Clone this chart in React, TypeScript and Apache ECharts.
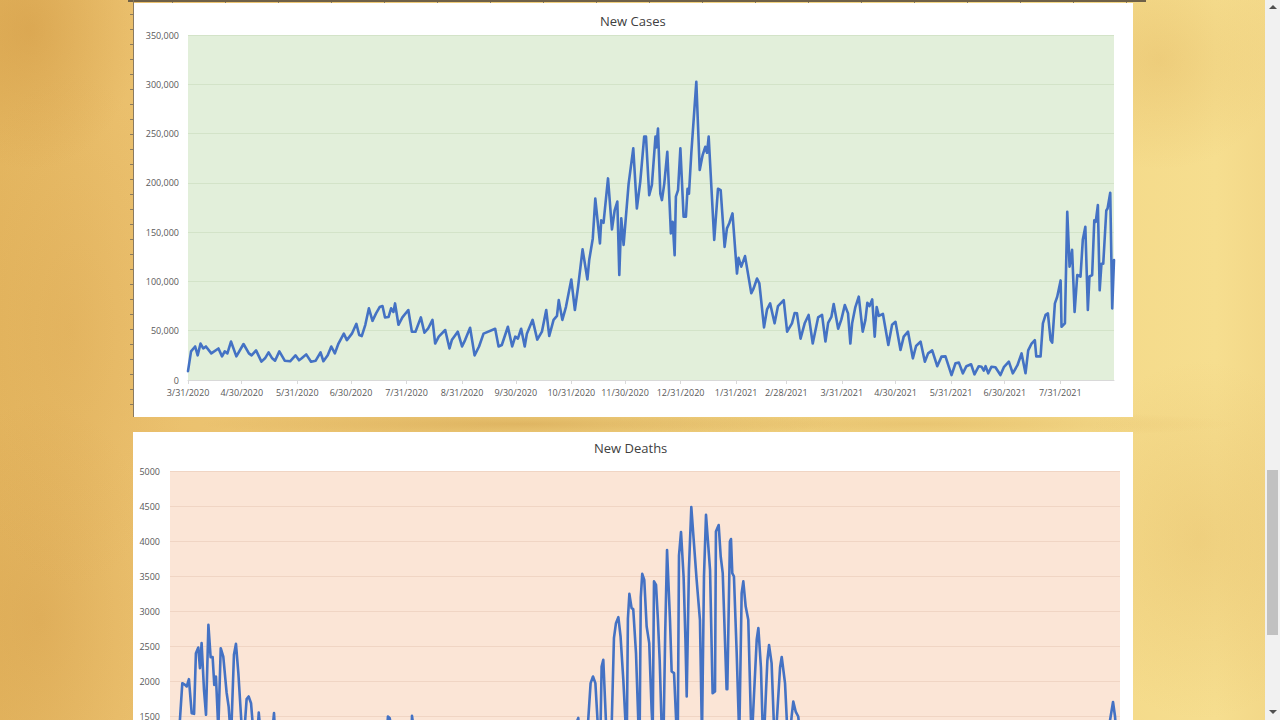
import React, { useEffect, useRef } from "react";
import * as echarts from "echarts";

// ---- data (day offsets counted from 3/31/2020) ----
const START_UTC = Date.UTC(2020, 2, 31);
const AXIS_END_DAY = 517;
const FONT = "'Open Sans', 'Noto Sans', sans-serif";

const dateTickLabels = [
  "3/31/2020", "4/30/2020", "5/31/2020", "6/30/2020", "7/31/2020", "8/31/2020",
  "9/30/2020", "10/31/2020", "11/30/2020", "12/31/2020", "1/31/2021", "2/28/2021",
  "3/31/2021", "4/30/2021", "5/31/2021", "6/30/2021", "7/31/2021",
];

const casesYTicks = [0, 50000, 100000, 150000, 200000, 250000, 300000, 350000];
const deathsYTicks = [0, 500, 1000, 1500, 2000, 2500, 3000, 3500, 4000, 4500, 5000];

const caseDays = [
  0, 1.7, 4, 5.4, 7, 8.5, 10, 13, 17, 19,
  20.5, 22, 24, 27, 31, 34, 35.5, 38, 41, 43,
  45, 47, 48.6, 51, 54, 57, 60, 62, 63.5, 66,
  68.7, 71.3, 74, 75.6, 78, 80, 82, 84, 87, 88.7,
  91.5, 94, 95.6, 97, 99, 101, 103, 105, 107, 108.6,
  110, 112, 113.4, 114.7, 115.6, 117.5, 119.7, 123, 125, 127,
  130, 132, 134, 136.5, 138, 140, 143.6, 146, 147.3, 150.6,
  153, 154.7, 157.5, 160, 162.5, 165, 171.5, 173.4, 175.2, 178.6,
  181, 182.7, 184.2, 186, 188, 189.2, 192.4, 195, 197.6, 200,
  201.7, 204.1, 206, 207, 209, 211, 214, 216, 217.8, 220.3,
  223, 224, 226, 227.4, 230, 230.7, 232, 234.5, 236.7, 238.2,
  239.7, 240.8, 241.9, 243.2, 246, 248.6, 250.6, 252.5, 254.7, 255.7,
  257.5, 259, 261, 261.5, 262.4, 263.7, 264.6, 265.9, 267.6, 269.6,
  270.6, 271.7, 272.4, 273.6, 274.9, 276.7, 278, 278.9, 279.7, 281,
  283.8, 285.7, 287.3, 288.8, 289.8, 290.7, 292.5, 293.8, 295.9, 297.4,
  299.6, 300.9, 302.2, 304, 306.5, 307.4, 308.9, 311, 314.5, 315.8,
  317.7, 319, 321.6, 323.3, 325, 327.5, 329.4, 332.6, 334.5, 337.2,
  338.7, 340, 342, 344.3, 346.5, 348.8, 351.8, 354, 355.9, 357.4,
  359.2, 360.5, 363, 364.8, 366.7, 368.5, 369.8, 370.8, 372.6, 374.5,
  376.7, 378.2, 379.3, 380.5, 382, 383.4, 384.5, 385.7, 388, 391,
  393.1, 395, 397.8, 399.6, 402, 404.7, 406.5, 409, 411.4, 413.2,
  415.5, 418.3, 420.7, 422.9, 426.3, 428.5, 430.4, 432.6, 434.6, 437.2,
  439.1, 441.5, 443, 444.3, 445.3, 446.8, 448.6, 450.8, 453.6, 455.5,
  458.3, 460.5, 463.1, 465.4, 467.6, 469.1, 471, 472.8, 473.6, 476,
  477.3, 478.8, 480.1, 481.6, 482.5, 484, 485.3, 487.2, 487.7, 489.6,
  490.9, 492.2, 493.6, 495, 496.5, 498.3, 499.6, 501, 502.4, 503.3,
  504.8, 506, 506.8, 508, 509, 510, 511, 512.7, 513.4, 514.9,
  516, 517,
];

const caseValues = [
  9000, 29000, 34000, 25000, 37000, 32000, 34000, 27000, 32000, 24000,
  29000, 27000, 39000, 24000, 36500, 27000, 25000, 30000, 18600, 22000,
  28000, 22000, 19600, 29000, 19600, 19000, 25000, 20000, 22000, 26000,
  18600, 19600, 28000, 19000, 25000, 34000, 27000, 37000, 47000, 40500,
  47000, 57000, 45600, 44600, 56000, 72700, 60000, 67600, 74000, 75000,
  63500, 64000, 72700, 69000, 77700, 56000, 63500, 71000, 49000, 49000,
  63500, 48000, 52000, 61000, 37000, 44000, 50700, 32000, 40500, 49000,
  34000, 40500, 53000, 25000, 34000, 47000, 52000, 34000, 35500, 54000,
  34000, 44000, 42000, 52000, 34000, 47000, 61000, 41000, 49000, 71000,
  44600, 61000, 65000, 81000, 61000, 74000, 102000, 71000, 94600, 132500,
  102000, 121700, 143600, 184000, 138600, 162000, 159500, 204500, 152800, 172000,
  181000, 106500, 164000, 137000, 199000, 235000, 174000, 201000, 247000, 247000,
  187600, 198000, 247000, 236000, 255000, 189000, 182500, 199000, 231500, 148700,
  160500, 126700, 186000, 192600, 235000, 165600, 165600, 194000, 189000, 230000,
  302500, 213000, 228000, 236600, 230500, 247000, 186000, 142000, 194000, 192600,
  135000, 153800, 159000, 169000, 108000, 124000, 115000, 125700, 88000, 93000,
  103000, 98000, 53400, 71700, 77700, 57500, 75000, 81000, 49000, 57500,
  68000, 67600, 42000, 57500, 66000, 37000, 63500, 66000, 39000, 58000,
  64000, 77000, 52000, 61500, 76000, 67600, 37000, 57500, 74000, 84500,
  49000, 61000, 78400, 75000, 81800, 44000, 74000, 65000, 67000, 35500,
  56000, 59000, 30400, 44000, 49000, 22000, 34500, 39000, 18600, 27000,
  30000, 14000, 23700, 24000, 5000, 17000, 17600, 6800, 14000, 16000,
  5700, 14000, 13500, 9500, 14000, 6800, 13500, 13000, 5000, 13000,
  18600, 6800, 15000, 27000, 6800, 30000, 37000, 40500, 24000, 24000,
  57500, 66000, 67600, 40500, 38000, 77700, 84500, 101000, 54000, 57500,
  170700, 115000, 132000, 69000, 106500, 104800, 142600, 155500, 71000, 105000,
  106500, 162000, 160500, 177500, 91000, 118000, 118000, 172000, 174000, 190000,
  72700, 121700,
];

const deathDays = [
  0, 3, 5.4, 6.7, 8.2, 9.1, 10.3, 11.8, 13.1, 14.1,
  15.4, 16.3, 17.2, 18.5, 19.6, 20.9, 22.1, 23.2, 24.1, 25,
  26.3, 27.6, 29, 30.8, 31.9, 33.2, 34.8, 35.9, 37.2, 39,
  39.9, 41.7, 42.8, 44.1, 45.7, 47, 48.3, 49.3, 51, 53,
  54, 56.6, 58, 61, 63, 64, 66, 68, 70, 72,
  75, 77, 79, 82, 84, 86, 89, 91, 93, 96,
  98, 100, 103, 105, 107, 110, 112, 114, 117, 118.6,
  119.5, 121, 124, 126, 128, 131, 131.7, 133, 138, 140,
  142, 145, 147, 149, 152, 154, 156, 159, 161, 163,
  166, 168, 170, 173, 175, 177, 180, 182, 184, 187,
  189, 191, 194, 196, 198, 201, 203, 205, 208, 210,
  212, 215, 217, 219, 222.2, 224, 226, 227.6, 228.9, 230.2,
  231.5, 233.1, 234, 234.9, 235.8, 237.3, 238.5, 240.3, 241.6, 242.7,
  244, 245.2, 246.7, 248.1, 248.6, 249.2, 250, 251.2, 252.1, 253.6,
  254.9, 255.6, 256.2, 257, 258.1, 259.4, 260.8, 262.1, 262.7, 263.4,
  264.5, 265.5, 266.5, 267.5, 268.5, 269.5, 270.5, 272.1, 273, 274.3,
  275.7, 276.3, 277, 278.1, 279.5, 280.5, 281.2, 282.4, 283.7, 284.8,
  286.6, 288.4, 289.5, 290.6, 291.7, 293.9, 295.3, 296.6, 297.1, 298.6,
  299.7, 300.8, 302.9, 303.3, 304.7, 305.3, 306, 306.9, 308.4, 309.8,
  311.1, 312, 313.3, 314.7, 316.5, 319.3, 320.2, 321.6, 322.9, 325.1,
  326, 327.4, 329.2, 332, 332.9, 334.7, 336.5, 338.3, 339.2, 340.5,
  341.9, 343, 345, 347, 349, 352, 354, 356, 359, 361,
  363, 366, 368, 370, 373, 375, 377, 380, 382, 384,
  387, 389, 391, 394, 396, 398, 401, 403, 405, 408,
  410, 412, 415, 417, 419, 422, 424, 426, 429, 431,
  433, 436, 438, 440, 443, 445, 447, 450, 452, 454,
  457, 459, 461, 464, 466, 468, 471, 473, 475, 478,
  480, 482, 485, 487, 489, 492, 494, 496, 499, 501,
  503, 506, 508, 510, 511.6, 513.2, 514.3, 515.4, 517,
];

const deathValues = [
  900, 1150, 1452, 1976, 1952, 1929, 2033, 1548, 1538, 2405,
  2486, 2190, 2548, 1881, 1524, 2810, 2348, 2348, 1952, 2071,
  1310, 2476, 2357, 1843, 1643, 1167, 2381, 2538, 2119, 1357,
  1070, 1748, 1786, 1690, 1170, 1020, 1557, 1260, 1000, 1250,
  800, 1548, 900, 700, 1100, 1200, 600, 500, 1000, 1050,
  450, 1000, 900, 400, 800, 750, 350, 700, 1100, 500,
  900, 1000, 550, 1100, 1300, 700, 1250, 1350, 800, 1500,
  1480, 1300, 700, 1300, 1350, 800, 1510, 1250, 500, 1200,
  1250, 450, 1100, 1150, 400, 1000, 1050, 350, 950, 1050,
  400, 1100, 1000, 300, 950, 1000, 350, 900, 950, 400,
  950, 1000, 400, 900, 1000, 400, 1000, 1050, 450, 1050,
  1100, 450, 1200, 1250, 1480, 500, 1100, 1452, 1976, 2071,
  1976, 1250, 900, 2214, 2310, 1400, 700, 1300, 2619, 2833,
  2919, 2643, 2024, 1300, 1200, 2900, 3252, 3048, 3033, 2405,
  1400, 1300, 3200, 3538, 3452, 2786, 2548, 1595, 1300, 3430,
  3380, 2900, 2300, 1400, 1100, 2700, 3879, 2881, 2143, 2119,
  1300, 1100, 3800, 4136, 3500, 2600, 1786, 3600, 4493, 4095,
  3452, 2881, 1200, 3500, 4380, 3595, 1833, 1857, 4143, 4236,
  3786, 3548, 1890, 1890, 4000, 4036, 3548, 3500, 2405, 1200,
  3262, 3430, 3071, 2881, 1100, 2600, 2764, 2200, 1000, 2300,
  2521, 2262, 1000, 2200, 2350, 1976, 1000, 1500, 1714, 1571,
  1500, 1200, 700, 1400, 1300, 600, 1350, 1250, 550, 1300,
  1200, 500, 1250, 1100, 450, 1100, 1000, 400, 1000, 900,
  350, 900, 850, 300, 800, 750, 300, 750, 700, 250,
  700, 650, 200, 600, 550, 200, 550, 450, 150, 500,
  450, 150, 400, 350, 100, 350, 300, 100, 300, 250,
  80, 350, 300, 100, 350, 300, 120, 400, 350, 150,
  500, 450, 200, 650, 600, 250, 800, 750, 300, 1100,
  1000, 400, 1250, 1200, 1450, 1707, 1500, 1100, 600,
];

// ---- helpers ----
const DAY_MS = 86400000;
function dayOfLabel(label: string): number {
  const [m, d, y] = label.split("/").map(Number);
  return Math.round((Date.UTC(y, m - 1, d) - START_UTC) / DAY_MS);
}
function labelOfDay(day: number): string {
  const dt = new Date(START_UTC + Math.round(day) * DAY_MS);
  return `${dt.getUTCMonth() + 1}/${dt.getUTCDate()}/${dt.getUTCFullYear()}`;
}
function withCommas(v: number): string {
  return String(v).replace(/\B(?=(\d{3})+(?!\d))/g, ",");
}

const tickDays = dateTickLabels.map(dayOfLabel);

const parchment = [
  "radial-gradient(ellipse 110px 140px at 30px 30px, rgba(195,130,45,0.30), rgba(195,130,45,0) 100%)",
  "radial-gradient(ellipse 120px 260px at 70px 330px, rgba(205,145,60,0.18), rgba(205,145,60,0) 100%)",
  "radial-gradient(ellipse 130px 220px at 40px 620px, rgba(195,130,50,0.20), rgba(195,130,50,0) 100%)",
  "radial-gradient(ellipse 120px 110px at 1160px 60px, rgba(210,150,60,0.22), rgba(210,150,60,0) 100%)",
  "radial-gradient(ellipse 140px 180px at 1200px 540px, rgba(210,150,60,0.20), rgba(210,150,60,0) 100%)",
  "radial-gradient(ellipse 320px 14px at 520px 424px, rgba(185,125,40,0.30), rgba(185,125,40,0) 100%)",
  "radial-gradient(ellipse 320px 14px at 920px 424px, rgba(200,140,50,0.22), rgba(200,140,50,0) 100%)",
  "linear-gradient(90deg, #e4b660 0%, #eabf6c 9%, #efcd7b 40%, #f3d786 80%, #f6de8f 95%, #f2d686 100%)",
].join(",");

export default function App() {
  const ref = useRef<HTMLDivElement>(null);

  useEffect(() => {
    if (!ref.current) return;
    const chart = echarts.init(ref.current, undefined, { renderer: "svg" });

    const axisText = { fontFamily: FONT, fontSize: 9, color: "#595959" };

    chart.setOption({
      animation: false,
      backgroundColor: "transparent",
      title: [
        {
          text: "New Cases",
          left: 600,
          top: 14,
          padding: 0,
          textStyle: { fontFamily: FONT, fontSize: 13, fontWeight: "normal", color: "#404040" },
        },
        {
          text: "New Deaths",
          left: 594,
          top: 441,
          padding: 0,
          textStyle: { fontFamily: FONT, fontSize: 13, fontWeight: "normal", color: "#404040" },
        },
      ],
      grid: [
        {
          left: 188, top: 35, width: 926, height: 345,
          show: true, backgroundColor: "#e2efda", borderWidth: 0,
        },
        {
          left: 170, top: 471.5, width: 950, height: 350,
          show: true, backgroundColor: "#fbe5d6", borderWidth: 0,
        },
      ],
      xAxis: [
        {
          type: "value",
          gridIndex: 0,
          min: 0,
          max: AXIS_END_DAY,
          axisLine: { show: true, lineStyle: { color: "#d9d9d9", width: 1 } },
          axisTick: { show: true, customValues: tickDays, length: 4, lineStyle: { color: "#d9d9d9" } },
          axisLabel: {
            customValues: tickDays,
            formatter: (v: number) => labelOfDay(v),
            margin: 8,
            ...axisText,
          },
          splitLine: { show: false },
        },
        {
          type: "value",
          gridIndex: 1,
          min: 0,
          max: AXIS_END_DAY,
          axisLine: { show: false },
          axisTick: { show: false },
          axisLabel: { show: false },
          splitLine: { show: false },
        },
      ],
      yAxis: [
        {
          type: "value",
          gridIndex: 0,
          min: casesYTicks[0],
          max: casesYTicks[casesYTicks.length - 1],
          interval: casesYTicks[1] - casesYTicks[0],
          axisLine: { show: false },
          axisTick: { show: false },
          axisLabel: { formatter: (v: number) => withCommas(v), margin: 9, ...axisText },
          splitLine: { show: true, lineStyle: { color: "#d3e3c8", width: 1 } },
        },
        {
          type: "value",
          gridIndex: 1,
          min: deathsYTicks[0],
          max: deathsYTicks[deathsYTicks.length - 1],
          interval: deathsYTicks[1] - deathsYTicks[0],
          axisLine: { show: false },
          axisTick: { show: false },
          // labels below 1500 fall beneath the visible page edge
          axisLabel: {
            formatter: (v: number) => (v >= 1500 ? String(v) : ""),
            margin: 10,
            ...axisText,
          },
          splitLine: { show: true, lineStyle: { color: "#f0d5c4", width: 1 } },
        },
      ],
      series: [
        {
          name: "New Cases",
          type: "line",
          xAxisIndex: 0,
          yAxisIndex: 0,
          data: caseDays.map((d, i) => [d, caseValues[i]]),
          symbol: "none",
          lineStyle: { color: "#4472c4", width: 2.6, join: "round", cap: "round" },
        },
        {
          name: "New Deaths",
          type: "line",
          xAxisIndex: 1,
          yAxisIndex: 1,
          data: deathDays.map((d, i) => [d, deathValues[i]]),
          symbol: "none",
          lineStyle: { color: "#4472c4", width: 2.6, join: "round", cap: "round" },
        },
      ],
    });

    return () => chart.dispose();
  }, []);

  return (
    <div
      style={{
        position: "fixed",
        left: 0,
        top: 0,
        width: 1280,
        height: 720,
        overflow: "hidden",
        background: parchment,
      }}
    >
      {/* top edge strip of previous figure */}
      <div style={{ position: "absolute", left: 128, top: 0, width: 1018, height: 2, background: "#6e6048" }} />
      <div
        style={{
          position: "absolute", left: 128, top: 2, width: 1018, height: 3,
          background: "repeating-linear-gradient(90deg, transparent 0 44px, #8a7a5c 44px 45px, transparent 45px 53px)",
        }}
      />
      {/* left ruler line */}
      <div style={{ position: "absolute", left: 133, top: 0, width: 1, height: 417, background: "#8a7a60" }} />
      <div
        style={{
          position: "absolute", left: 130, top: 0, width: 3, height: 417,
          background: "repeating-linear-gradient(180deg, transparent 0 14px, #8a7a60 14px 15px)",
        }}
      />
      {/* white panels */}
      <div style={{ position: "absolute", left: 134, top: 3, width: 999, height: 414, background: "#ffffff" }} />
      <div style={{ position: "absolute", left: 133, top: 432, width: 1000, height: 300, background: "#ffffff" }} />
      {/* scrollbar */}
      <div style={{ position: "absolute", left: 1265, top: 0, width: 15, height: 720, background: "#f1f1f1" }} />
      <div style={{ position: "absolute", left: 1267, top: 470, width: 11, height: 165, background: "#c1c1c1" }} />
      <div
        style={{
          position: "absolute", left: 1269, top: 5, width: 0, height: 0,
          borderLeft: "4px solid transparent", borderRight: "4px solid transparent",
          borderBottom: "4px solid #505050",
        }}
      />
      <div
        style={{
          position: "absolute", left: 1269, top: 710, width: 0, height: 0,
          borderLeft: "4px solid transparent", borderRight: "4px solid transparent",
          borderTop: "4px solid #505050",
        }}
      />
      {/* chart: taller than the window, the page edge cuts the deaths plot as in the screenshot */}
      <div ref={ref} style={{ position: "absolute", left: 0, top: 0, width: 1280, height: 900 }} />
    </div>
  );
}
